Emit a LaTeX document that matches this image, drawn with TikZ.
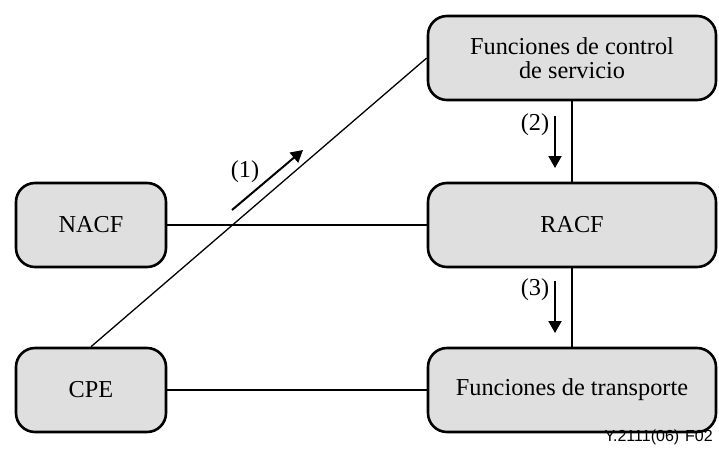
\documentclass[tikz,border=0pt]{standalone}
\usepackage{fontspec}
\setmainfont{Liberation Serif}
\newfontfamily\figsans{Liberation Sans}
\usetikzlibrary{arrows.meta}
\begin{document}
\begin{tikzpicture}[x=1pt,y=-1pt,
    bloque/.style={draw, rounded corners=19pt, line width=2.6pt, fill=gray!25,
        minimum height=84pt, align=center, font=\fontsize{24.3}{24}\selectfont},
    ancho/.style={bloque, minimum width=288pt},
    corto/.style={bloque, minimum width=150pt},
    enlace/.style={line width=1.3pt},
    flujo/.style={line width=2pt, -{Triangle[length=12pt,width=13pt]}},
    etiq/.style={font=\fontsize{24.3}{24}\selectfont}]
    \useasboundingbox (0,0) rectangle (719,455);
    % bloques
    \node[ancho] (servicio) at (572,58) {Funciones de control\\de servicio};
    \node[corto] (nacf) at (91,225) {NACF};
    \node[ancho] (racf) at (572,225) {RACF};
    \node[corto] (cpe) at (91,390) {CPE};
    \node[ancho] (transporte) at (572,390) {Funciones de transporte};
    % enlaces
    \draw[enlace] (nacf.east) -- (racf.west);
    \draw[enlace] (cpe.east) -- (transporte.west);
    \draw[enlace] (cpe.north) -- (servicio.west);
    \draw[enlace] (servicio.south) -- (racf.north);
    \draw[enlace] (racf.south) -- (transporte.north);
    % flujos
    \coordinate (f1a) at (232,210);
    \coordinate (f1b) at (303,150);
    \draw[flujo] (f1a) -- (f1b);
    \node[etiq] (e1) at (245,172) {(1)};
    \coordinate (f2a) at (555,116);
    \coordinate (f2b) at (555,168);
    \draw[flujo] (f2a) -- (f2b);
    \node[etiq] (e2) at (535,125) {(2)};
    \coordinate (f3a) at (555,281);
    \coordinate (f3b) at (555,333);
    \draw[flujo] (f3a) -- (f3b);
    \node[etiq] (e3) at (535,290) {(3)};
    \node[anchor=base east, inner sep=0pt, font=\figsans\fontsize{16}{18}\selectfont]
        (ref) at (713,441) {Y.2111(06)\hspace{6pt}F02};
\end{tikzpicture}
\end{document}
